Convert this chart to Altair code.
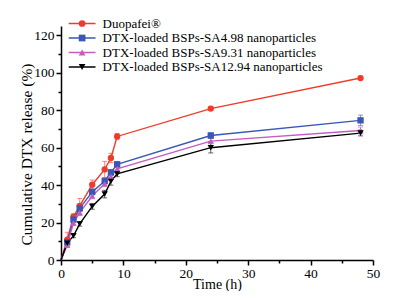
import altair as alt
import pandas as pd

time = [0, 1, 2, 3, 5, 7, 8, 9, 24, 48]
series = [
    "Duopafei®",
    "DTX-loaded BSPs-SA4.98 nanoparticles",
    "DTX-loaded BSPs-SA9.31 nanoparticles",
    "DTX-loaded BSPs-SA12.94 nanoparticles",
]
duopafei = [0, 10.8, 23.2, 28.9, 40.2, 48.4, 54.5, 66.0, 80.9, 97.2]
sa498 = [0, 9.5, 21.6, 27.6, 36.4, 42.2, 46.8, 51.1, 66.5, 74.6]
sa931 = [0, 8.0, 19.8, 25.3, 34.2, 40.7, 44.6, 48.7, 63.5, 69.2]
sa1294 = [0, 9.0, 12.9, 19.3, 28.6, 35.2, 42.0, 46.0, 60.0, 67.8]

err_duo = [0, 4.0, 1.5, 4.0, 2.5, 4.3, 2.5, 1.5, 1.0, 1.0]
err_498 = [0, 1.0, 1.2, 1.5, 1.5, 1.5, 1.5, 1.5, 1.5, 2.8]
err_931 = [0, 1.0, 1.2, 1.5, 1.5, 1.5, 1.5, 1.5, 1.5, 1.8]
err_1294 = [0, 1.0, 1.0, 1.2, 1.5, 2.0, 2.0, 1.5, 2.8, 1.5]

colors = ["#ef3b2c", "#3a57b5", "#c45cc0", "#000000"]
shapes = ["circle", "square", "triangle-up", "triangle-down"]

rows = []
for name, vals, errs in zip(series, [duopafei, sa498, sa931, sa1294],
                            [err_duo, err_498, err_931, err_1294]):
    for t, v, e in zip(time, vals, errs):
        rows.append({"series": name, "time": t, "value": v,
                     "lo": v - e, "hi": v + e})
df = pd.DataFrame(rows)

FONT = "Liberation Serif"

x_axis = alt.Axis(
    title="Time (h)", values=list(range(0, 51, 5)),
    labelExpr="datum.value % 10 == 0 ? datum.label : ''",
    tickSize={"condition": {"test": "datum.value % 10 == 0", "value": 5}, "value": 3},
    grid=False, labelFlush=False, labelOverlap=False,
    labelFont=FONT, labelFontSize=13.5, labelColor="black", labelPadding=1,
    titleFont=FONT, titleFontSize=14, titleFontWeight="normal", titleColor="black",
    titleBaseline="alphabetic", titleY=28.5,
    domainColor="black", domainWidth=1.5,
    tickColor="black", tickWidth=1.5,
)
y_axis = alt.Axis(
    title="Cumulative DTX release (%)", values=list(range(0, 121, 10)),
    labelExpr="datum.value % 20 == 0 ? datum.label : ''",
    tickSize={"condition": {"test": "datum.value % 20 == 0", "value": 5}, "value": 3},
    grid=False, labelOverlap=False, labelFlush=False,
    labelFont=FONT, labelFontSize=13.5, labelColor="black", labelPadding=2,
    titleFont=FONT, titleFontSize=15.5, titleFontWeight="normal", titleColor="black",
    titleX=-35, titleY=128, titleBaseline="middle", titleAlign="center", titleAngle=270,
    domainColor="black", domainWidth=1.5,
    tickColor="black", tickWidth=1.5,
)

xs = alt.Scale(domain=[0, 50], nice=False)
ys = alt.Scale(domain=[0, 125], nice=False)
X = alt.X("time:Q", scale=xs, axis=x_axis)
Y = alt.Y("value:Q", scale=ys, axis=y_axis)

base = alt.Chart(df)

common_legend = dict(
    title=None, orient="none", legendX=14.6, legendY=-9,
    symbolSize=45, labelFont=FONT, labelFontSize=13, labelFontWeight="normal",
    labelLimit=400, rowPadding=0.5, labelOffset=14,
)
line_legend = alt.Legend(symbolType="M-4,0H4", symbolStrokeWidth=1.5,
                         labelColor="black", **common_legend)
point_legend = alt.Legend(symbolStrokeWidth=0, labelOpacity=0,
                          labelColor="rgba(0,0,0,0)", **common_legend)

errbars = base.transform_filter("datum.time > 0").mark_errorbar(ticks=True, opacity=0.6).encode(
    x=alt.X("time:Q", scale=xs, axis=x_axis),
    y=alt.Y("lo:Q", scale=ys, axis=y_axis),
    y2="hi:Q",
    color=alt.Color("series:N", scale=alt.Scale(domain=series, range=colors), legend=None),
)

lines = base.mark_line(strokeWidth=1.4).encode(
    x=X, y=Y,
    color=alt.Color("series:N", scale=alt.Scale(domain=series, range=colors), legend=line_legend),
)

points = base.transform_filter("datum.time > 0").mark_point(filled=True, size=40, opacity=1).encode(
    x=X, y=Y,
    color=alt.Color("series:N", scale=alt.Scale(domain=series, range=colors), legend=point_legend),
    shape=alt.Shape("series:N", scale=alt.Scale(domain=series, range=shapes), legend=point_legend),
)

chart = alt.layer(lines, errbars, points).resolve_scale(
    color="independent", shape="independent"
).properties(
    width=312, height=234,
    autosize=alt.AutoSizeParams(type="none"),
    padding={"left": 53, "top": 18, "right": 12, "bottom": 31},
).configure(font=FONT).configure_axis(
    labelFont=FONT, titleFont=FONT
).configure_legend(labelFont=FONT).configure_view(stroke=None)

chart.save("out.html", embed_options={"renderer": "svg", "actions": False})
